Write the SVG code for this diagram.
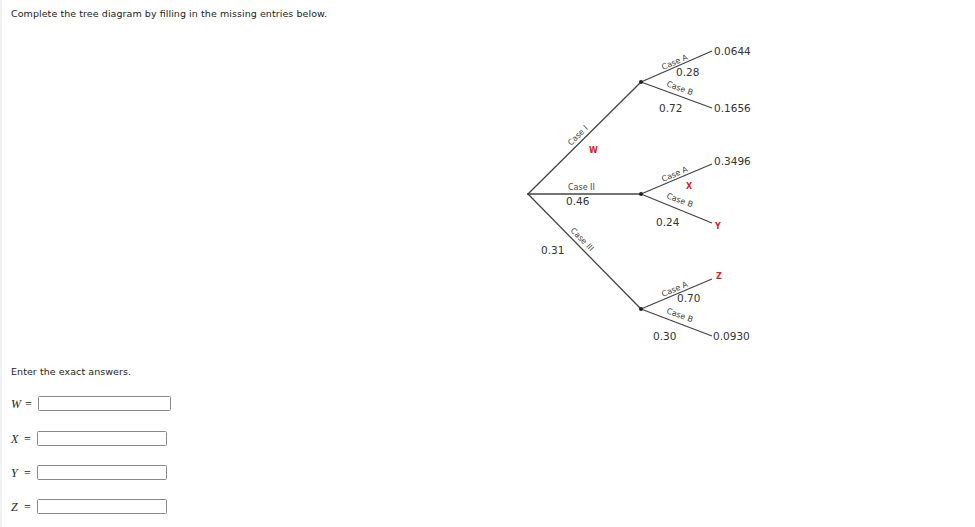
<svg xmlns="http://www.w3.org/2000/svg" width="975" height="527" viewBox="0 0 975 527">
<style>
.t{font-family:"DejaVu Sans",Verdana,sans-serif;fill:#222;}
.num{font-family:"DejaVu Sans",Verdana,sans-serif;font-size:10.5px;fill:#333;}
.case{font-family:"DejaVu Sans",Verdana,sans-serif;font-size:8px;fill:#444;}
.red{font-family:"DejaVu Sans",Verdana,sans-serif;font-size:8px;font-weight:bold;fill:#e02020;}
.br{stroke:#444;stroke-width:1.3;fill:none;}
.box{fill:#fff;stroke:#888;stroke-width:1;}
.var{font-family:"Liberation Serif","Times New Roman",serif;font-size:12px;font-style:italic;fill:#222;}
.eq{font-family:"Liberation Serif","Times New Roman",serif;font-size:12px;fill:#222;}
</style>
<rect width="975" height="527" fill="#fff"/>
<rect x="0" y="0" width="2" height="527" fill="#eef2f6"/>
<text class="t" x="11" y="17" font-size="9.5" textLength="316">Complete the tree diagram by filling in the missing entries below.</text>
<text class="t" x="11" y="375" font-size="9.5" textLength="120">Enter the exact answers.</text>
<g id="connectors">
<line class="br" x1="528" y1="194" x2="641" y2="82"/>
<line class="br" x1="528" y1="194" x2="641" y2="194"/>
<line class="br" x1="528" y1="194" x2="641" y2="309"/>
<line class="br" x1="641" y1="82" x2="712" y2="51"/>
<line class="br" x1="641" y1="82" x2="712" y2="108"/>
<line class="br" x1="641" y1="194" x2="712" y2="164"/>
<line class="br" x1="641" y1="194" x2="712" y2="223"/>
<line class="br" x1="641" y1="309" x2="712" y2="279"/>
<line class="br" x1="641" y1="309" x2="712" y2="336"/>
</g>
<g id="node-root"><circle cx="528" cy="194" r="1" fill="#333"/></g>
<g id="node-I"><circle cx="641" cy="82" r="2" fill="#222"/></g>
<g id="node-II"><circle cx="641" cy="194" r="2" fill="#222"/></g>
<g id="node-III"><circle cx="641" cy="309" r="2" fill="#222"/></g>
<g id="labels-I">
<text class="case" transform="translate(571,146) rotate(-45)">Case I</text>
<text class="red" x="589" y="153">W</text>
<text class="case" transform="translate(663,70) rotate(-23)">Case A</text>
<text class="num" x="676" y="76">0.28</text>
<text class="case" transform="translate(666,86) rotate(20)">Case B</text>
<text class="num" x="659" y="112">0.72</text>
<text class="num" x="714" y="55">0.0644</text>
<text class="num" x="714" y="112">0.1656</text>
</g>
<g id="labels-II">
<text class="case" x="568" y="190">Case II</text>
<text class="num" x="566" y="205">0.46</text>
<text class="case" transform="translate(663,182) rotate(-23)">Case A</text>
<text class="red" x="686" y="189">X</text>
<text class="case" transform="translate(666,198) rotate(20)">Case B</text>
<text class="num" x="656" y="226">0.24</text>
<text class="num" x="714" y="165">0.3496</text>
<text class="red" x="715" y="229">Y</text>
</g>
<g id="labels-III">
<text class="case" transform="translate(570,231) rotate(45)">Case III</text>
<text class="num" x="541" y="254">0.31</text>
<text class="case" transform="translate(663,297) rotate(-23)">Case A</text>
<text class="num" x="677" y="302">0.70</text>
<text class="case" transform="translate(666,313) rotate(20)">Case B</text>
<text class="num" x="653" y="340">0.30</text>
<text class="red" x="716" y="279">Z</text>
<text class="num" x="713" y="340">0.0930</text>
</g>
<g id="answers">
<text class="var" x="11" y="408">W</text><text class="eq" x="25" y="408">=</text>
<rect class="box" x="38.5" y="396.5" width="132" height="14" rx="1"/>
<text class="var" x="11" y="443">X</text><text class="eq" x="24" y="443">=</text>
<rect class="box" x="37.5" y="431.5" width="129" height="14" rx="1"/>
<text class="var" x="11" y="477">Y</text><text class="eq" x="24" y="477">=</text>
<rect class="box" x="37.5" y="465.5" width="129" height="14" rx="1"/>
<text class="var" x="11" y="511">Z</text><text class="eq" x="24" y="511">=</text>
<rect class="box" x="37.5" y="499.5" width="129" height="14" rx="1"/>
</g>
</svg>
